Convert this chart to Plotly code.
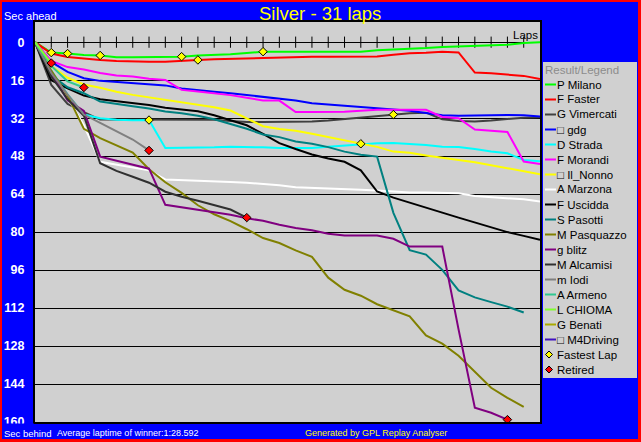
import plotly.graph_objects as go

# ---------------- data ----------------
laps = list(range(32))
lap_ticks = list(range(1, 31))
y_ticks = list(range(0, 161, 16))

drivers = ["P Milano", "F Faster", "G Vimercati", "□ gdg", "D Strada", "F Morandi",
           "□ Il_Nonno", "A Marzona", "F Uscidda", "S Pasotti", "M Pasquazzo", "g blitz",
           "M Alcamisi", "m Iodi", "A Armeno", "L CHIOMA", "G Benati", "□ M4Driving"]
colors = ["#00FF00", "#FF0000", "#404040", "#0000FF", "#00FFFF", "#FF00FF",
          "#FFFF00", "#FFFFFF", "#000000", "#008080", "#808000", "#800080",
          "#303030", "#808080", "#30C890", "#80FF30", "#AAAA00", "#4010C0"]

# seconds behind the winner's average pace, lap 0 .. last lap
milano = [0, 4.4, 4.8, 5.4, 5.6, 6.3, 6.4, 6.4, 6.4, 6.1, 5.6, 5.5, 5.1, 4.6, 4.0, 4.0,
          4.0, 4.0, 4.0, 4.0, 4.0, 3.4, 3.2, 2.8, 2.5, 2.0, 1.8, 1.6, 1.1, 1.1, 0.3, 0]
faster = [0, 4.8, 6.2, 6.9, 7.5, 7.9, 8.2, 8.2, 8.2, 8.0, 7.5, 7.2, 7.0, 6.7, 6.6, 6.3,
          6.2, 6.1, 6.1, 6.1, 6.1, 6.0, 5.3, 4.7, 4.5, 4.0, 4.3, 12.8, 13.1, 13.6, 14.2, 15.5]
vimercati = [0, 18, 26, 29.5, 32.6, 32.6, 32.7, 32.7, 32.5, 32.5, 32.6, 32.7, 33.2, 33.6, 33.6, 33.6,
             33.6, 33.4, 33.0, 32.4, 31.5, 31.0, 30.5, 29.9, 29.7, 32.5, 33.2, 33.4, 33.0, 32.3, 31.8, 31.6]
gdg = [0, 8.3, 12.5, 15.2, 16.3, 16.7, 17.1, 17.6, 18.2, 19.5, 20.3, 20.9, 21.5, 22.2, 22.9, 23.6,
       24.6, 25.7, 26.2, 26.7, 27.5, 28.0, 28.5, 28.9, 29.8, 30.8, 31.0, 30.8, 30.7, 30.7, 30.8, 31.3]
strada = [0, 12, 22, 30.5, 32.0, 32.7, 32.9, 32.8, 44.6, 44.6, 44.6, 44.3, 44.0, 44.0, 44.3, 44.6,
          44.6, 44.6, 44.0, 43.5, 42.8, 42.6, 42.5, 42.8, 43.3, 44.0, 44.2, 45.0, 46.1, 46.8, 49.6, 50.2]
morandi = [0, 7.9, 10.5, 11.5, 13.0, 14.0, 14.5, 15.4, 15.9, 20.1, 20.8, 21.4, 22.3, 23.4, 24.6, 24.6,
           29.4, 29.4, 29.4, 29.3, 28.9, 28.5, 28.5, 28.5, 28.5, 31.5, 32.0, 36.8, 37.2, 37.8, 50.3, 51.3]
il_nonno = [0, 10.1, 15.0, 17.8, 19.2, 20.9, 22.2, 23.2, 24.3, 25.3, 26.4, 27.4, 28.8, 32.0, 35.4, 36.6,
            37.3, 38.6, 39.9, 41.3, 42.6, 44.1, 46.1, 46.6, 47.7, 48.5, 49.6, 50.6, 51.9, 53.1, 54.4, 55.6]
marzona = [0, 14, 23.3, 35.0, 50.4, 51.5, 52.8, 54.0, 57.8, 58.0, 58.3, 58.6, 58.9, 59.2, 59.7, 60.3,
           61.1, 61.3, 61.6, 61.9, 62.2, 62.5, 62.9, 63.3, 63.3, 63.4, 63.6, 64.8, 65.2, 65.5, 66.2, 67.1]
uscidda = [0, 16, 19.5, 22.5, 24.0, 24.8, 25.7, 26.5, 27.6, 28.3, 29.1, 30.8, 33.0, 35.0, 38.6, 42.5,
           45.0, 47.3, 49.0, 50.4, 54.0, 62.9, 65.5, 67.7, 69.7, 71.8, 73.9, 76.0, 78.1, 80.0, 81.6, 83.2]
pasotti = [0, 14, 19, 21.5, 25.0, 26.1, 27.0, 27.9, 29.2, 29.9, 31.0, 32.5, 34.5, 36.5, 38.9, 40.0,
           41.8, 42.8, 44.2, 46.1, 47.4, 48.2, 71.9, 87.6, 89.5, 95.9, 104.6, 107.5, 109.5, 111.4, 113.9]
pasquazzo = [0, 12, 22.5, 36.5, 40.4, 43.4, 46.5, 53.5, 59.0, 63.5, 68.7, 72.5, 75.4, 78.8, 82.5, 84.6,
             87.7, 90.4, 99.2, 104.3, 106.8, 110.4, 112.9, 115.5, 123.5, 127.0, 132.1, 138.8, 145.6, 149.8, 153.6]
blitz = [0, 13, 24.5, 29.0, 48.2, 50.0, 51.8, 53.3, 68.5, 69.6, 70.6, 71.5, 72.7, 74.2, 75.2, 76.9,
         78.3, 79.2, 80.7, 81.4, 81.4, 81.4, 82.8, 86.1, 86.1, 86.1, 121.0, 154.0, 156.1, 159.0]
alcamisi = [0, 14.5, 24, 31, 51.0, 54.2, 56.7, 59.2, 63.0, 65.1, 66.8, 68.5, 70.5, 73.9]
iodi = [0, 13, 22.0, 30.5, 34.0, 37.5, 41.0, 45.6]
armeno = [0, 10, 16.5, 19.1]
chioma = [0, 8.8]
benati = [0]
m4driving = [0]

series = [milano, faster, vimercati, gdg, strada, morandi, il_nonno, marzona, uscidda,
          pasotti, pasquazzo, blitz, alcamisi, iodi, armeno, chioma, benati, m4driving]

fastest_laps = [("P Milano", 1), ("P Milano", 2), ("P Milano", 4), ("D Strada", 7),
                ("P Milano", 9), ("F Faster", 10), ("P Milano", 14), ("D Strada", 20),
                ("G Vimercati", 22)]
retired = ["L CHIOMA", "A Armeno", "m Iodi", "M Alcamisi", "g blitz"]

title_text = "Silver - 31 laps"
winner_avg = "Average laptime of winner:1:28.592"

# ---------------- figure ----------------
FONT = "Liberation Sans, Arial, sans-serif"
W, H = 641, 442
L, R, T, B = 35, 540, 22, 422
PW, PH = R - L, B - T


def px(x):
    return (x - L) / PW


def py(y):
    return (B - y) / PH


by_name = dict(zip(drivers, series))
fig = go.Figure()

# lap tick marks along the zero line
fig.add_trace(go.Scatter(x=lap_ticks, y=[0] * len(lap_ticks), mode="markers",
                         marker=dict(symbol="line-ns", size=8,
                                     line=dict(color="black", width=1)),
                         hoverinfo="skip", showlegend=False))

for name, col, vals in zip(drivers, colors, series):
    fig.add_trace(go.Scatter(x=laps[:len(vals)], y=vals, mode="lines", name=name,
                             line=dict(color=col, width=2), showlegend=False))

fig.add_trace(go.Scatter(x=[lap for _, lap in fastest_laps],
                         y=[by_name[n][lap] for n, lap in fastest_laps],
                         mode="markers", name="Fastest Lap", showlegend=False,
                         marker=dict(symbol="diamond", size=6.5, color="#FFFF00",
                                     line=dict(color="black", width=1))))
fig.add_trace(go.Scatter(x=[len(by_name[n]) - 1 for n in retired],
                         y=[by_name[n][-1] for n in retired],
                         mode="markers", name="Retired", showlegend=False,
                         marker=dict(symbol="diamond", size=6.5, color="#FF0000",
                                     line=dict(color="black", width=1))))

shapes = []
annotations = []


def rect(x0, y0, x1, y1, color):
    shapes.append(dict(type="rect", xref="paper", yref="paper", x0=px(x0), x1=px(x1),
                       y0=py(y1), y1=py(y0), fillcolor=color, line=dict(width=0),
                       layer="above"))


def text(x, y, s, size, color, xanchor="left"):
    annotations.append(dict(xref="paper", yref="paper", x=px(x), y=py(y), text=s,
                            showarrow=False, xanchor=xanchor, yanchor="middle",
                            font=dict(family=FONT, size=size, color=color),
                            borderpad=0, borderwidth=0))


# clip the bottom tick label like the original status bar
rect(2, 423.5, 34, 439, "#0000FF")
# red outer border
rect(0, 0, 2, H, "#FF0000")
rect(0, 0, W, 2, "#FF0000")
rect(638, 0, W, H, "#FF0000")
rect(0, 439, W, H, "#FF0000")

# legend box
rect(543, 62, 637, 378, "#D0D0D0")
text(545, 70.5, "Result/Legend", 11.5, "#8C8C8C")
y0 = 84.5
step = 15
for i, (name, col) in enumerate(zip(drivers, colors)):
    yy = y0 + i * step
    shapes.append(dict(type="line", xref="paper", yref="paper", x0=px(545), x1=px(556),
                       y0=py(yy), y1=py(yy), line=dict(color=col, width=2), layer="above"))
    text(556.5, yy, name, 11.5, "black")
for j, (lbl, col) in enumerate([("Fastest Lap", "#FFFF00"), ("Retired", "#FF0000")]):
    yy = y0 + (len(drivers) + j) * step
    cx, r = 549, 3.5
    path = "M {a},{b} L {c},{d} L {e},{f} L {g},{h} Z".format(
        a=px(cx - r), b=py(yy), c=px(cx), d=py(yy - r),
        e=px(cx + r), f=py(yy), g=px(cx), h=py(yy + r))
    shapes.append(dict(type="path", xref="paper", yref="paper", path=path,
                       fillcolor=col, line=dict(color="black", width=1), layer="above"))
    text(556.5, yy, lbl, 11.5, "black")

# titles and captions
text(319.5, 14, title_text, 18.5, "#FFFF00", xanchor="center")
text(4, 16, "Sec ahead", 11, "white")
text(538, 35.5, "Laps", 11.5, "black", xanchor="right")
text(4, 433, "Sec behind", 9.5, "white")
text(57, 433, winner_avg, 9, "white")
text(305, 433, "Generated by GPL Replay Analyser", 9, "#FFFF00")

fig.update_layout(
    width=W, height=H,
    margin=dict(l=L, r=W - R, t=T, b=H - B, pad=0, autoexpand=False),
    paper_bgcolor="#0000FF", plot_bgcolor="#D0D0D0",
    font=dict(family=FONT),
    shapes=shapes, annotations=annotations,
    xaxis=dict(range=[0, 31], showgrid=False, showticklabels=False, ticks="",
               zeroline=False, showline=True, mirror=True, linecolor="black",
               linewidth=2, fixedrange=True, automargin=False),
    yaxis=dict(range=[160, -8.5], tickvals=y_ticks, showgrid=True, gridcolor="black",
               gridwidth=1, zeroline=False, showline=True, mirror=True,
               linecolor="black", linewidth=2, ticks="", ticklabelstandoff=6,
               tickfont=dict(family=FONT, size=12.5, color="white", weight="bold"),
               fixedrange=True, automargin=False),
    hovermode=False,
)

fig.write_html("out.html", config={"displayModeBar": False},
               post_script="document.body.style.margin='0';document.body.style.padding='0';")
